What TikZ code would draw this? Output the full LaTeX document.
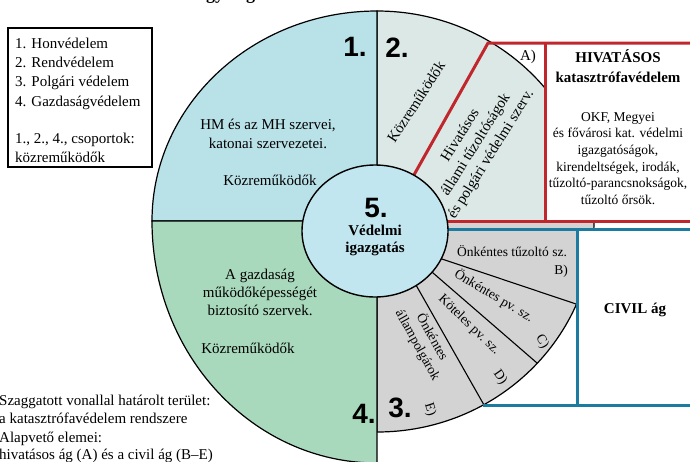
\documentclass[tikz,border=0pt]{standalone}
\usepackage{fontspec}
\setmainfont{Liberation Serif}
\newfontfamily\numfont{Liberation Sans}
\definecolor{qone}{RGB}{185,225,232}
\definecolor{qfive}{RGB}{194,230,240}
\definecolor{qtwo}{RGB}{220,232,229}
\definecolor{qthree}{RGB}{211,211,211}
\definecolor{qfour}{RGB}{169,217,188}
\definecolor{redc}{RGB}{192,39,45}
\definecolor{bluec}{RGB}{28,123,160}
\begin{document}
\begin{tikzpicture}[x=1pt,y=-1pt,
  lbl/.style={inner sep=0pt, font=\fontsize{15}{18}\selectfont},
  sml/.style={inner sep=0pt, font=\fontsize{13.5}{16.6}\selectfont},
  bld/.style={inner sep=0pt, font=\bfseries\fontsize{15}{18}\selectfont},
  bignum/.style={inner sep=0pt, font=\numfont\bfseries\fontsize{28}{30}\selectfont},
  pie/.style={draw=black, line width=1.2pt},
  redline/.style={draw=redc, line width=3pt},
  blueline/.style={draw=bluec, line width=3pt},
  sector/.style={draw=black, line width=1.1pt}]
\useasboundingbox (0,0) rectangle (690,461);
\begin{scope}
\clip (0,0) rectangle (690,461);
% title fragment
\node[inner sep=0pt, anchor=base west, font=\bfseries\fontsize{18}{20}\selectfont] (tA) at (206,-1) {gy};
\node[inner sep=0pt, anchor=base west, font=\bfseries\fontsize{18}{20}\selectfont] (tB) at (246,-1) {g};
% quadrants
\path[pie, fill=qtwo] (377,221) -- (377,11) arc[start angle=90, end angle=0, x radius=217pt, y radius=210pt] -- cycle;
\path[pie, fill=qthree] (377,221) -- (594,221) arc[start angle=0, end angle=-90, x radius=217pt, y radius=211pt] -- cycle;
\path[pie, fill=qone] (377,221) -- (377,11) arc[start angle=90, end angle=180, x radius=225pt, y radius=210pt] -- cycle;
\path[pie, fill=qfour] (377,221) -- (152,221) arc[start angle=180, end angle=270, x radius=225pt, y radius=242pt] -- cycle;
% sector lines
\draw[sector] (430,255) -- (576,304);
\draw[sector] (425,266) -- (537,363);
\draw[sector] (412,278) -- (484,405);
% white boxes
\fill[white] (545,43) rectangle (700,221);
\fill[white] (577,229) rectangle (700,405);
% red branch
\draw[redline] (410,182) -- (488,43) -- (700,43);
\draw[redline] (545,43) -- (545,221);
\draw[redline] (440,221) -- (700,221);
% blue branch
\draw[blueline] (440,229) -- (700,229);
\draw[blueline] (577,229) -- (577,405);
\draw[blueline] (483,405) -- (700,405);
% centre circle
\path[draw=black, line width=1.4pt, fill=qfive] (375,231) ellipse[x radius=73pt, y radius=66pt];
\node[bignum, anchor=base] (n5) at (376,217) {5.};
\node[bld, anchor=base] (c1) at (375,235) {Védelmi};
\node[bld, anchor=base] (c2) at (375,252) {igazgatás};
% big numbers
\node[bignum, anchor=base] (n1) at (355,56) {1.};
\node[bignum, anchor=base] (n2) at (397,57) {2.};
\node[bignum, anchor=base] (n3) at (400,417) {3.};
\node[bignum, anchor=base] (n4) at (364,423) {4.};
% quadrant 1
\node[lbl, anchor=base] (q1a) at (268,129) {HM és az MH szervei,};
\node[lbl, anchor=base] (q1b) at (268,148) {katonai szervezetei.};
\node[lbl, anchor=base] (q1c) at (270,185) {Közreműködők};
% quadrant 4
\node[lbl, anchor=base] (q4a) at (260,279) {A gazdaság};
\node[lbl, anchor=base] (q4b) at (260,297) {működőképességét};
\node[lbl, anchor=base] (q4c) at (260,315) {biztosító szervek.};
\node[lbl, anchor=base] (q4d) at (248,353) {Közreműködők};
% quadrant 2
\node[lbl, rotate=57] (q2a) at (416,102) {Közreműködők};
\node[lbl, rotate=58, align=center] (q2b) at (476,145) {Hivatásos\\állami tűzoltóságok\\és polgári védelmi szerv.};
\node[lbl, anchor=base] (la) at (528,60) {A)};
% hivatasos box
\node[bld, anchor=base] (h1) at (618,62) {HIVATÁSOS};
\node[bld, anchor=base] (h2) at (618,82) {katasztrófavédelem};
\node[sml, anchor=base] (h3) at (618,121) {OKF, Megyei};
\node[sml, anchor=base] (h4) at (618,137) {és fővárosi kat. védelmi};
\node[sml, anchor=base] (h5) at (618,154) {igazgatóságok,};
\node[sml, anchor=base] (h6) at (618,171) {kirendeltségek, irodák,};
\node[sml, anchor=base] (h7) at (618,187) {tűzoltó-parancsnokságok,};
\node[sml, anchor=base] (h8) at (618,204) {tűzoltó őrsök.};
% civil
\node[bld, anchor=base] (civ) at (635,313) {CIVIL ág};
% quadrant 3
\node[sml, anchor=base] (s1) at (512,256) {Önkéntes tűzoltó sz.};
\node[sml, anchor=base] (lb) at (561,274) {B)};
\node[sml, rotate=-31] (s2) at (494,296) {Önkéntes pv. sz.};
\node[sml, rotate=-60] (lc) at (542,342) {C)};
\node[sml, rotate=-44] (s3) at (469,325) {Köteles pv. sz.};
\node[sml, rotate=-55] (ld) at (500,377) {D)};
\node[sml, rotate=-61, align=center] (s4) at (425,341) {Önkéntes\\állampolgárok};
\node[sml, rotate=-72] (le) at (430,410) {E)};
% legend
\draw[line width=1.1pt] (8,28) rectangle (152,167);
\node[lbl, anchor=base west] (g1) at (15,48) {1. Honvédelem};
\node[lbl, anchor=base west] (g2) at (15,67) {2. Rendvédelem};
\node[lbl, anchor=base west] (g3) at (15,86) {3. Polgári védelem};
\node[lbl, anchor=base west] (g4) at (15,106) {4. Gazdaságvédelem};
\node[lbl, anchor=base west] (g5) at (15,143) {1., 2., 4., csoportok:};
\node[lbl, anchor=base west] (g6) at (15,162) {közreműködők};
% bottom note
\node[lbl, anchor=base west] (b1) at (-1,405) {Szaggatott vonallal határolt terület:};
\node[lbl, anchor=base west] (b2) at (-1,423) {a katasztrófavédelem rendszere};
\node[lbl, anchor=base west] (b3) at (-1,442) {Alapvető elemei:};
\node[lbl, anchor=base west] (b4) at (-1,459) {hivatásos ág (A) és a civil ág (B–E)};
\end{scope}
\end{tikzpicture}
\end{document}
